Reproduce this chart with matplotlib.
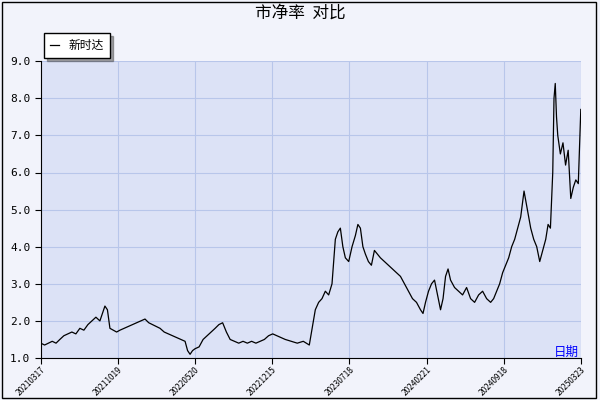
import matplotlib
matplotlib.use("Agg")
import matplotlib.pyplot as plt
import numpy as np
plt.rcParams['font.family'] = ['Noto Sans CJK SC', 'DejaVu Sans']

# segments: (start fraction, end fraction of the time span, values)
seg_bounds = [41,60,80,100,110,120,145,160,185,195,215,230,260,285,315,325,335,345,355,365,380,400,420,425,440,450,470,490,505,520,530,545,552,557,570,580]
seg_values = [[1.4,1.35,1.4,1.45,1.4],[1.5,1.6,1.65,1.7,1.65],[1.8,1.75,1.9,2.0,2.1],
              [2.0,2.2,2.4,2.3],[1.8,1.75,1.7],[1.75,1.8,1.85,1.9,1.95,2.0],
              [2.05,1.95,1.9,1.85],[1.8,1.7,1.65,1.6,1.55,1.5],[1.45,1.2,1.1,1.2],
              [1.25,1.3,1.5,1.6,1.7],[1.8,1.9,1.95,1.7],[1.5,1.45,1.4,1.45,1.4,1.45,1.4],
              [1.45,1.5,1.6,1.65,1.6,1.55],[1.5,1.45,1.4,1.45,1.35],[2.3,2.5,2.6],
              [2.8,2.7,3.0],[4.2,4.4,4.5,4.0],[3.7,3.6,4.0],[4.3,4.6,4.5,4.0],
              [3.8,3.6,3.5,3.9,3.8],[3.7,3.6,3.5,3.4,3.3],[3.2,3.0,2.8,2.6,2.5],[2.3,2.2],
              [2.5,2.8,3.0,3.1,2.7],[2.3,2.6,3.2,3.4],[3.1,2.9,2.8,2.7,2.9],
              [2.6,2.5,2.7,2.8,2.6],[2.5,2.6,2.8,3.0,3.3],[3.5,3.7,4.0,4.2,4.5],
              [4.8,5.5,5.0],[4.5,4.2,4.0,3.6,3.9],[4.2,4.6,4.5],[6.0,8.0,8.4,7.5],
              [7.0,6.5,6.8,6.2,6.6],[5.3,5.6,5.8,5.7,7.7]]
tick_labels = ["20210317","20211019","20220520","20221215","20230718","20240221","20240918","20250323"]

xs, ys = [], []
for i, vals in enumerate(seg_values):
    a, b = seg_bounds[i], seg_bounds[i+1]
    xs.extend(np.linspace(a, b, len(vals), endpoint=(i == len(seg_values)-1)))
    ys.extend(vals)
xs = (np.array(xs) - seg_bounds[0]) / (seg_bounds[-1] - seg_bounds[0])

fig = plt.figure(figsize=(6,4), dpi=100, facecolor='#f2f3fb')
ax = fig.add_axes([0.068, 0.105, 0.9, 0.742])
ax.set_facecolor('#dce2f6')
ax.plot(xs, ys, color='black', lw=0.9, label='新时达')
ax.set_xlim(0, 1)
ax.set_ylim(1.0, 9.0)
yt = np.arange(1.0, 9.01, 1.0)
ax.set_yticks(yt)
ax.set_yticklabels([f"{v:.1f}" for v in yt], fontsize=8, family='DejaVu Sans Mono')
ax.set_xticks(np.linspace(0, 1, len(tick_labels)))
ax.set_xticklabels(tick_labels, rotation=45, fontsize=6, ha='right', rotation_mode='anchor')
ax.tick_params(axis='x', pad=1)
ax.grid(True, color='#b8c6ea', lw=0.8)
for s in ['top','right']:
    ax.spines[s].set_visible(False)
ax.tick_params(length=4)
fig.text(0.5, 0.955, '市净率  对比', ha='center', fontsize=12)
fig.text(0.965, 0.11, '日期', ha='right', fontsize=9, color='blue')
ax.legend(loc='upper left', bbox_to_anchor=(-0.005, 1.115), fontsize=8.5, fancybox=False,
          shadow=True, edgecolor='black', handlelength=0.8, borderpad=0.5)
fig.patches.append(plt.Rectangle((0.003,0.005),0.99,0.99, transform=fig.transFigure, fill=False, ec='black', lw=1))
fig.savefig('out.png', facecolor=fig.get_facecolor())
